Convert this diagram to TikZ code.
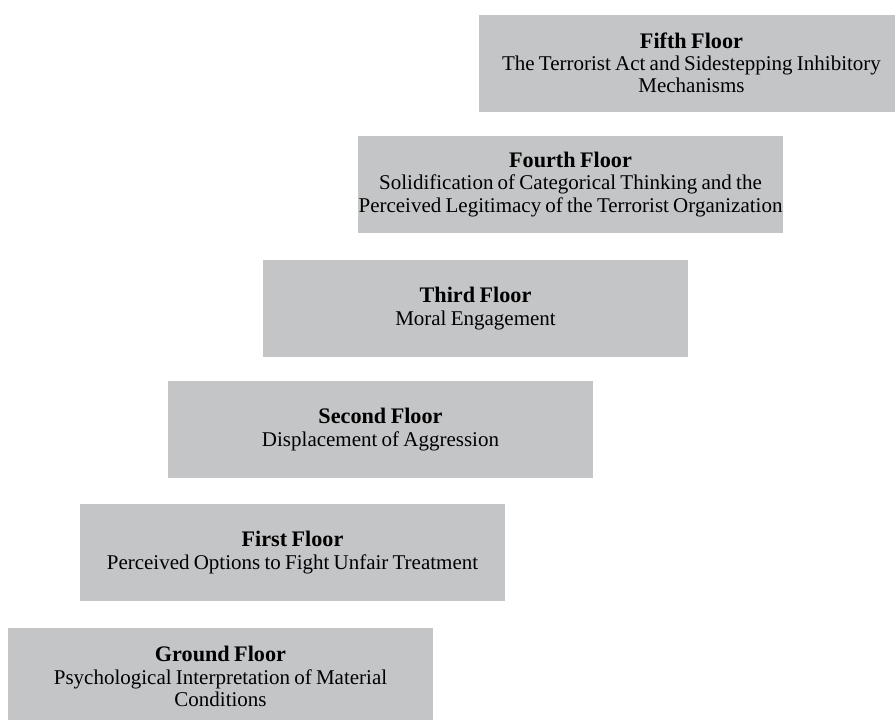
\documentclass[tikz,border=0pt]{standalone}
\usepackage{fontspec}
\setmainfont{Liberation Serif}[WordSpace=0.8]
\usepackage{xcolor}
\usetikzlibrary{positioning}

\definecolor{floorgray}{RGB}{196,197,199}

\newcommand{\floorname}[1]{{\fontsize{11.1}{11.2}\selectfont\bfseries #1}}

\tikzset{
    floorbox/.style={rectangle, fill=floorgray, draw=none, inner sep=0pt,
        minimum width=212.5pt, minimum height=48.5pt,
        align=center, font=\fontsize{10.5}{11.1}\selectfont}
}

\begin{document}
\begin{tikzpicture}[x=0.5pt,y=-0.5pt]
    \useasboundingbox (0,0) rectangle (895,719);
    \clip (0,0) rectangle (895,719);
    \begin{scope}
        % Floors, top to bottom
        \node[floorbox] (fifth) at (691.5,63) {\floorname{Fifth Floor}\\The Terrorist Act and Sidestepping Inhibitory\\Mechanisms};
        \node[floorbox] (fourth) at (570.5,184.5) {\floorname{Fourth Floor}\\Solidification of Categorical Thinking and the\\Perceived Legitimacy of the Terrorist Organization};
        \node[floorbox] (third) at (475.5,308.5) {\floorname{Third Floor}\\Moral Engagement};
        \node[floorbox] (second) at (380.5,429.5) {\floorname{Second Floor}\\Displacement of Aggression};
        \node[floorbox] (first) at (292.5,552.5) {\floorname{First Floor}\\Perceived Options to Fight Unfair Treatment};
        \node[floorbox] (ground) at (220.5,676.5) {\floorname{Ground Floor}\\Psychological Interpretation of Material\\Conditions};
    \end{scope}
\end{tikzpicture}
\end{document}
